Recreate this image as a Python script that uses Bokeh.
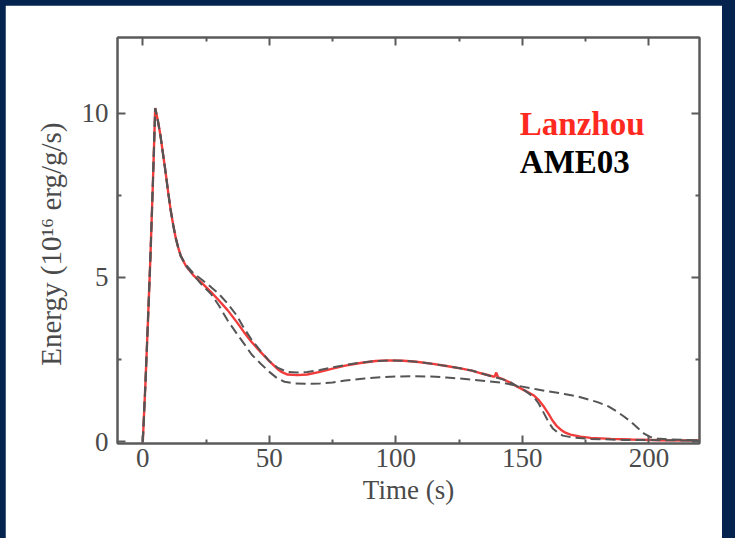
from bokeh.plotting import figure
from bokeh.models import FixedTicker, LinearAxis, Label, Range1d, CustomJSTickFormatter
from bokeh.layouts import column
from bokeh.embed import file_html
from bokeh.resources import INLINE

# ---- data ----
lanzhou_t = [0, 1, 2, 3, 4, 4.9, 6, 7, 8, 9, 10, 11, 12, 13, 14, 15, 17, 20, 23, 27,
             30, 33.5, 37, 40, 43, 46.6, 50, 53.2, 55, 57.2, 61, 65, 70, 75, 80, 86, 92, 97, 103, 108,
             114, 120, 126, 130, 134, 137, 139, 139.7, 140.4, 142, 145, 148, 151, 154.6, 156.5, 158.6, 160.3, 161.9, 163.5, 165.2,
             167, 169, 173, 177, 185, 193, 205, 220]
lanzhou_e = [0, 1.7, 3.6, 5.6, 7.9, 10.15, 9.75, 9.3, 8.75, 8.2, 7.6, 7.05, 6.6, 6.2, 5.9, 5.65, 5.35, 5.06, 4.85, 4.55,
             4.3, 4.0, 3.65, 3.33, 3.03, 2.72, 2.45, 2.21, 2.11, 2.04, 2.02, 2.04, 2.12, 2.22, 2.31, 2.39, 2.45, 2.47, 2.46, 2.43,
             2.37, 2.3, 2.22, 2.16, 2.07, 2.01, 1.97, 2.1, 1.95, 1.91, 1.8, 1.67, 1.55, 1.40, 1.26, 1.05, 0.85, 0.64, 0.48, 0.36,
             0.27, 0.21, 0.15, 0.11, 0.08, 0.06, 0.04, 0.03]

ame_a_t = [0, 1, 2, 3, 4, 4.9, 6, 7, 8, 9, 10, 11, 12, 13, 14, 15, 17, 20, 23, 27,
           30, 33.5, 37, 40, 43, 46.6, 50, 53.2, 57, 61, 65, 70, 75, 80, 86, 92, 97, 103, 108, 114,
           120, 126, 130, 134, 138, 142, 145, 148, 151, 154.6, 156.5, 158.6, 160.3, 162, 164, 166, 170, 177, 190, 205,
           220]
ame_a_e = [0, 1.7, 3.6, 5.6, 7.9, 10.15, 9.75, 9.3, 8.75, 8.2, 7.6, 7.05, 6.6, 6.2, 5.9, 5.65, 5.38, 5.12, 4.95, 4.7,
           4.5, 4.2, 3.85, 3.45, 3.1, 2.75, 2.45, 2.25, 2.12, 2.1, 2.12, 2.18, 2.26, 2.33, 2.4, 2.45, 2.47, 2.46, 2.43, 2.37,
           2.3, 2.22, 2.16, 2.07, 1.98, 1.9, 1.82, 1.68, 1.55, 1.35, 1.15, 0.85, 0.6, 0.4, 0.27, 0.18, 0.12, 0.08, 0.05, 0.04,
           0.03]

ame_b_t = [0, 1, 2, 3, 4, 4.9, 6, 7, 8, 9, 10, 11, 12, 13, 14, 15, 17, 20.2, 23, 26.9,
           30, 33.5, 37, 40, 43, 46.6, 50, 53.2, 56, 59.8, 65, 70, 75, 80, 87.6, 95, 100.7, 107, 113.8, 120,
           129.6, 137, 142, 148, 155, 160, 166.6, 173, 179.7, 184, 187.6, 190, 192.9, 195.5, 198.1, 200.5, 203.3, 208, 214, 220]
ame_b_e = [0, 1.7, 3.6, 5.6, 7.9, 10.15, 9.75, 9.3, 8.75, 8.2, 7.6, 7.05, 6.6, 6.2, 5.9, 5.65, 5.35, 5.06, 4.8, 4.5,
           4.15, 3.69, 3.3, 2.98, 2.65, 2.37, 2.12, 1.92, 1.82, 1.77, 1.76, 1.77, 1.8, 1.86, 1.92, 1.96, 1.98, 1.99, 1.98, 1.95,
           1.89, 1.83, 1.79, 1.7, 1.6, 1.53, 1.45, 1.35, 1.2, 1.07, 0.9, 0.77, 0.6, 0.42, 0.24, 0.14, 0.09, 0.06, 0.05, 0.04]

x_ticks = [0, 50, 100, 150, 200]
x_minor = [25, 75, 125, 175]
y_ticks = [0, 5, 10]
y_minor = [2.5, 7.5]

NAVY = "#04234e"
AXIS = "#5a5a5a"
LABEL = "#4a4a4a"
FONT = "Liberation Serif"

p = figure(width=717, height=533,
           x_range=Range1d(-10, 220), y_range=Range1d(-0.06, 12.3),
           output_backend="svg", toolbar_location=None,
           min_border_left=112, min_border_top=32, min_border_right=23, min_border_bottom=95,
           x_axis_label="Time (s)", y_axis_label="Energy (10\u00b9\u2076  erg/g/s)")
p.background_fill_color = "white"
p.border_fill_color = "white"
p.grid.visible = False
p.outline_line_color = AXIS
p.outline_line_width = 2

xt = FixedTicker(ticks=x_ticks, minor_ticks=x_minor)
yt = FixedTicker(ticks=y_ticks, minor_ticks=y_minor)
p.xaxis.ticker = xt
p.yaxis.ticker = yt

blank = CustomJSTickFormatter(code="return '';")
p.add_layout(LinearAxis(ticker=xt, formatter=blank), "above")
p.add_layout(LinearAxis(ticker=yt, formatter=blank), "right")

for ax in p.axis:
    ax.axis_line_color = AXIS
    ax.axis_line_width = 2
    ax.major_tick_line_color = AXIS
    ax.major_tick_line_width = 2
    ax.minor_tick_line_color = AXIS
    ax.minor_tick_line_width = 2
    ax.major_tick_in = 8
    ax.major_tick_out = 0
    ax.minor_tick_in = 4
    ax.minor_tick_out = 0
    ax.major_label_text_font = FONT
    ax.major_label_text_font_size = "27px"
    ax.major_label_text_color = LABEL
    ax.axis_label_text_font = FONT
    ax.axis_label_text_font_size = "27px"
    ax.axis_label_text_font_style = "normal"
    ax.axis_label_text_color = LABEL

for ax in p.above + p.right:
    ax.major_label_standoff = 0

p.xaxis[0].major_label_standoff = 8
p.yaxis[0].major_label_standoff = 9
p.xaxis[0].axis_label_standoff = 12
p.yaxis[0].axis_label_standoff = 12
p.yaxis[0].axis_label_text_font_size = "29px"

p.line(lanzhou_t, lanzhou_e, line_color="#f23c3c", line_width=2.4)
p.line(ame_a_t, ame_a_e, line_color="#555555", line_width=2, line_dash="10 5")
p.line(ame_b_t, ame_b_e, line_color="#555555", line_width=2, line_dash="10 5")

p.add_layout(Label(x=149, y=9.66, text="Lanzhou", text_font=FONT, text_font_size="33px",
                   text_font_style="bold", text_color="#ff2a1f", text_baseline="alphabetic"))
p.add_layout(Label(x=149, y=8.5, text="AME03", text_font=FONT, text_font_size="33px",
                   text_font_style="bold", text_color="black", text_baseline="alphabetic"))

page = column(p, styles={"background-color": NAVY, "padding": "5px 13px 0px 5px"})

open("out.html", "w").write(file_html(page, INLINE))
